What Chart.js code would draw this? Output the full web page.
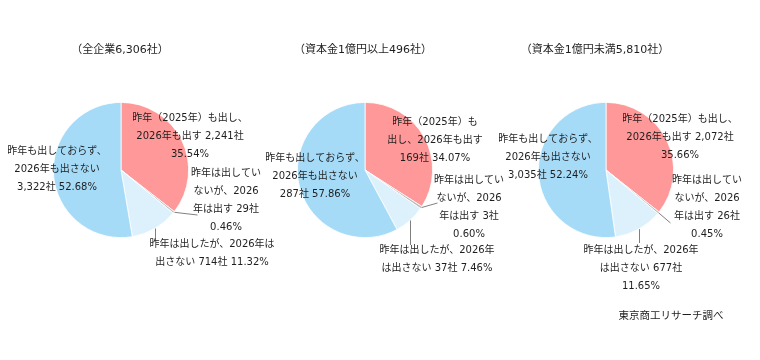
<!DOCTYPE html>
<html>
<head>
<meta charset="utf-8">
<script src="https://cdn.jsdelivr.net/npm/chart.js@4.4.1/dist/chart.umd.min.js"></script>
<style>
  body { margin: 0; background: #fff; }
  #wrap { position: relative; width: 760px; height: 360px; }
  #wrap canvas { position: absolute; left: 0; top: 0; }
  #source { position: absolute; left: 560px; width: 222px; top: 307px; text-align: center;
            font: 10.5px "DejaVu Sans", "Noto Sans CJK JP"; color: #1e1e1e; }
</style>
</head>
<body>
<div id="wrap">
  <canvas id="pie1" width="760" height="360"></canvas>
  <canvas id="pie2" width="760" height="360"></canvas>
  <canvas id="pie3" width="760" height="360"></canvas>
  <div id="source">東京商工リサーチ調べ</div>
</div>
<script>
// categories (clockwise from the top)
const categories = [
    '昨年（2025年）も出し、2026年も出す',
    '昨年は出していないが、2026年は出す',
    '昨年は出したが、2026年は出さない',
    '昨年も出しておらず、2026年も出さない'
];

const groupTitles = ['（全企業6,306社）', '（資本金1億円以上496社）', '（資本金1億円未満5,810社）'];

// companies per category
const countsAll = [2241, 29, 714, 3322];
const countsLarge = [169, 3, 37, 287];
const countsSmall = [2072, 26, 677, 3035];

// shares (%)
const sharesAll = [35.54, 0.46, 11.32, 52.68];
const sharesLarge = [34.07, 0.60, 7.46, 57.86];
const sharesSmall = [35.66, 0.45, 11.65, 52.24];

// how each label is broken into lines ({n} = count, {p} = share)
const linesAll = [
    ['昨年（2025年）も出し、', '2026年も出す {n}', '{p}'],
    ['昨年は出してい', 'ないが、2026', '年は出す {n}', '{p}'],
    ['昨年は出したが、2026年は', '出さない {n} {p}'],
    ['昨年も出しておらず、', '2026年も出さない', '{n} {p}']
];
const linesLarge = [
    ['昨年（2025年）も', '出し、2026年も出す', '{n} {p}'],
    ['昨年は出してい', 'ないが、2026', '年は出す {n}', '{p}'],
    ['昨年は出したが、2026年', 'は出さない {n} {p}'],
    ['昨年も出しておらず、', '2026年も出さない', '{n} {p}']
];
const linesSmall = [
    ['昨年（2025年）も出し、', '2026年も出す {n}', '{p}'],
    ['昨年は出してい', 'ないが、2026', '年は出す {n}', '{p}'],
    ['昨年は出したが、2026年', 'は出さない {n}', '{p}'],
    ['昨年も出しておらず、', '2026年も出さない', '{n} {p}']
];

const colors = ['#FF9898', '#BDBDBD', '#DDF1FD', '#A6DBF8'];
const textColor = '#1e1e1e';
const font = '10px "DejaVu Sans", "Noto Sans CJK JP"';
const titleFont = '11px "DejaVu Sans", "Noto Sans CJK JP"';
const lineH = 18;

// layout: pie centre / radius, title and label offsets from the centre
const layouts = [
    { cx: 121, cy: 170, r: 68, title: [-1, -120],
      labels: [[69, -52], [105, 3], [91, 74], [-64, -19]],
      leaders: [null, [76, 45], [null, 70], null] },
    { cx: 365, cy: 170, r: 68, title: [-2, -120],
      labels: [[70, -48], [104, 10], [72, 80], [-50, -12]],
      leaders: [null, [72, 33], [null, 75], null] },
    { cx: 606, cy: 170, r: 68, title: [-11, -120],
      labels: [[74, -51], [101, 10], [35, 80], [-58, -31]],
      leaders: [null, [64, 53], [null, 73], null] }
];

const labelPlugin = {
    id: 'pieLabels',
    afterDraw(chart, args, opts) {
        const ctx = chart.ctx;
        const meta = chart.getDatasetMeta(0);
        const lay = opts.layout;
        ctx.save();
        ctx.fillStyle = textColor;
        ctx.textAlign = 'center';
        ctx.textBaseline = 'middle';
        const arc0 = meta.data[0];
        ctx.font = titleFont;
        ctx.fillText(opts.title, arc0.x + lay.title[0], arc0.y + lay.title[1]);
        ctx.font = font;

        meta.data.forEach((arc, i) => {
            const mid = (arc.startAngle + arc.endAngle) / 2;
            const ex = arc.x + Math.cos(mid) * arc.outerRadius;
            const ey = arc.y + Math.sin(mid) * arc.outerRadius;
            const ld = lay.leaders[i];
            if (ld) {
                const tx = ld[0] === null ? ex : arc.x + ld[0];
                const ty = arc.y + ld[1];
                ctx.strokeStyle = '#808080';
                ctx.lineWidth = 1;
                ctx.beginPath();
                ctx.moveTo(Math.round(ex) + 0.5, ey);
                ctx.lineTo(Math.round(tx) + 0.5, ty);
                ctx.stroke();
            }
            const n = opts.counts[i].toLocaleString('en-US') + '社';
            const p = opts.shares[i].toFixed(2) + '%';
            const lx = arc.x + lay.labels[i][0];
            const ly = arc.y + lay.labels[i][1];
            opts.lines[i].forEach((t, k) => {
                ctx.fillText(t.replace('{n}', n).replace('{p}', p), lx, ly + k * lineH);
            });
        });
        ctx.restore();
    }
};

function makePie(id, counts, shares, lines, title, lay) {
    new Chart(document.getElementById(id), {
        type: 'pie',
        data: {
            labels: categories,
            datasets: [{
                data: counts,
                backgroundColor: colors,
                borderColor: '#ffffff',
                borderWidth: 0.8
            }]
        },
        options: {
            responsive: false,
            animation: false,
            layout: {
                padding: {
                    left: lay.cx - lay.r,
                    right: 760 - lay.cx - lay.r,
                    top: lay.cy - lay.r,
                    bottom: 360 - lay.cy - lay.r
                }
            },
            plugins: {
                legend: { display: false },
                tooltip: { enabled: false },
                pieLabels: { counts, shares, lines, title, layout: lay }
            }
        },
        plugins: [labelPlugin]
    });
}

makePie('pie1', countsAll, sharesAll, linesAll, groupTitles[0], layouts[0]);
makePie('pie2', countsLarge, sharesLarge, linesLarge, groupTitles[1], layouts[1]);
makePie('pie3', countsSmall, sharesSmall, linesSmall, groupTitles[2], layouts[2]);
</script>
</body>
</html>
